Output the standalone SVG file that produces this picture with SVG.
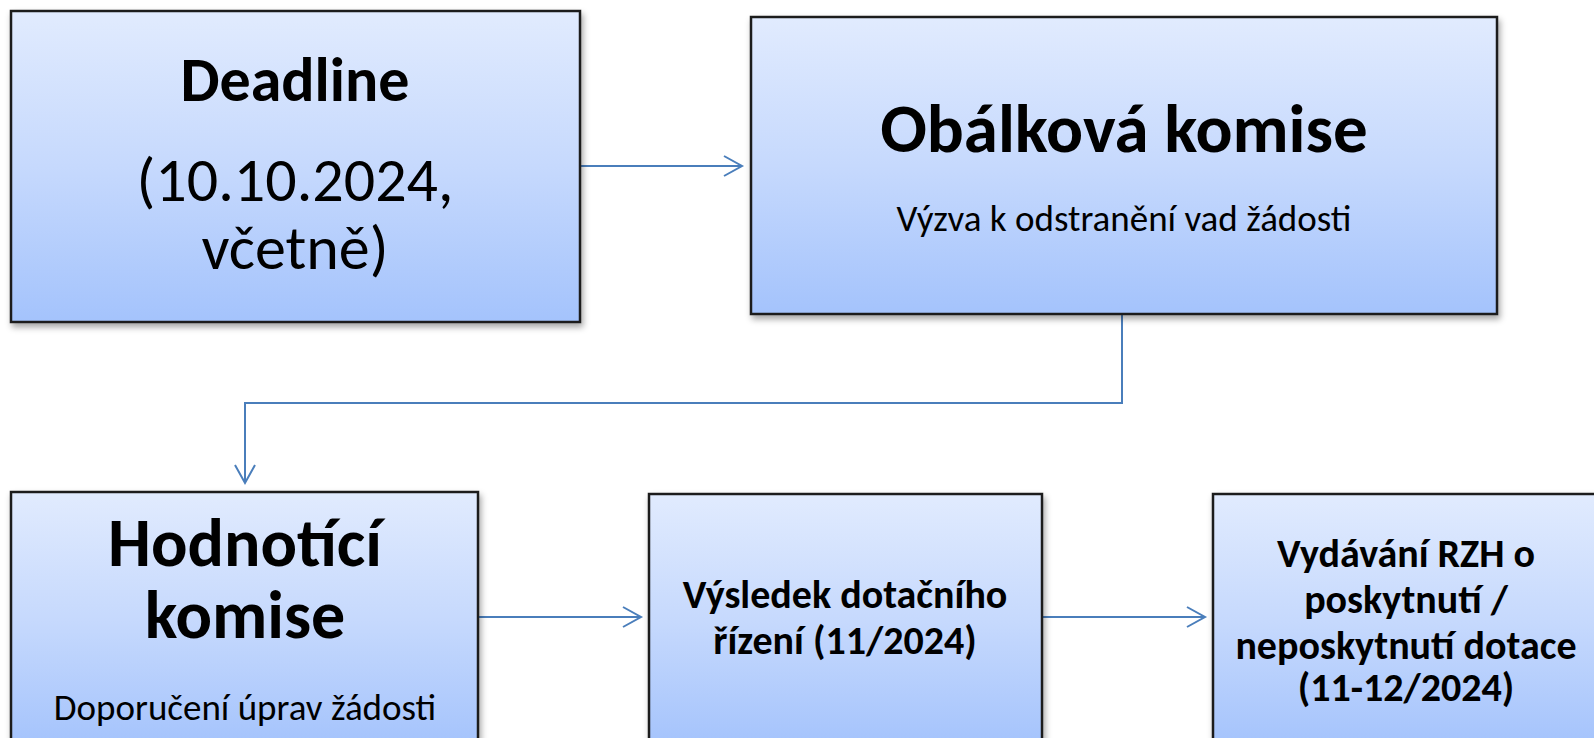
<svg xmlns="http://www.w3.org/2000/svg" width="1594" height="738" viewBox="0 0 1594 738">
  <style>
    .box { fill: url(#grad); stroke: #1e1e1e; stroke-width: 2.5; filter: url(#shadow); }
    .t { font-family: Carlito, Lato, "Liberation Sans", sans-serif; fill: #000; text-anchor: middle; }
    .b { font-weight: bold; }
    .conn { fill: none; stroke: #4a7ebb; stroke-width: 2; }
  </style>
  <defs>
    <linearGradient id="grad" x1="0" y1="0" x2="0" y2="1">
      <stop offset="0" stop-color="#e1ebfe"/>
      <stop offset="0.5" stop-color="#c6d9fd"/>
      <stop offset="1" stop-color="#a4c3fc"/>
    </linearGradient>
    <filter id="shadow" x="-5%" y="-5%" width="115%" height="120%">
      <feDropShadow dx="2" dy="4" stdDeviation="3" flood-color="#000" flood-opacity="0.35"/>
    </filter>
    <marker id="arrow" markerUnits="userSpaceOnUse" markerWidth="24" markerHeight="24" refX="20" refY="12" orient="auto">
      <path d="M2 2 L20 12 L2 22" fill="none" stroke="#4a7ebb" stroke-width="2"/>
    </marker>
  </defs>

  <g id="connectors">
    <path class="conn" d="M580 166 H742" marker-end="url(#arrow)"/>
    <path class="conn" d="M1122 314 V403 H245 V483" marker-end="url(#arrow)"/>
    <path class="conn" d="M478 617 H641" marker-end="url(#arrow)"/>
    <path class="conn" d="M1042 617 H1205" marker-end="url(#arrow)"/>
  </g>

  <g id="deadline">
    <rect class="box" x="11" y="11" width="569" height="311"/>
    <text class="t b" x="295" y="101" font-size="62">Deadline</text>
    <text class="t" x="295" y="201" font-size="62">(10.10.2024,</text>
    <text class="t" x="295" y="269" font-size="62">včetně)</text>
  </g>

  <g id="obalkova">
    <rect class="box" x="751" y="17" width="746" height="297"/>
    <text class="t b" x="1124" y="152" font-size="69">Obálková komise</text>
    <text class="t" x="1124" y="231" font-size="37">Výzva k odstranění vad žádosti</text>
  </g>

  <g id="hodnotici">
    <rect class="box" x="11" y="492" width="467" height="256"/>
    <text class="t b" x="245" y="566" font-size="68">Hodnotící</text>
    <text class="t b" x="245" y="638" font-size="68">komise</text>
    <text class="t" x="245" y="720" font-size="37">Doporučení úprav žádosti</text>
  </g>

  <g id="vysledek">
    <rect class="box" x="649" y="494" width="393" height="254"/>
    <text class="t b" x="845" y="608" font-size="40">Výsledek dotačního</text>
    <text class="t b" x="845" y="654" font-size="40">řízení (11/2024)</text>
  </g>

  <g id="vydavani">
    <rect class="box" x="1213" y="494" width="390" height="254"/>
    <text class="t b" x="1406" y="567" font-size="40">Vydávání RZH o</text>
    <text class="t b" x="1406" y="613" font-size="40">poskytnutí /</text>
    <text class="t b" x="1406" y="659" font-size="40">neposkytnutí dotace</text>
    <text class="t b" x="1406" y="701" font-size="40">(11-12/2024)</text>
  </g>
</svg>
